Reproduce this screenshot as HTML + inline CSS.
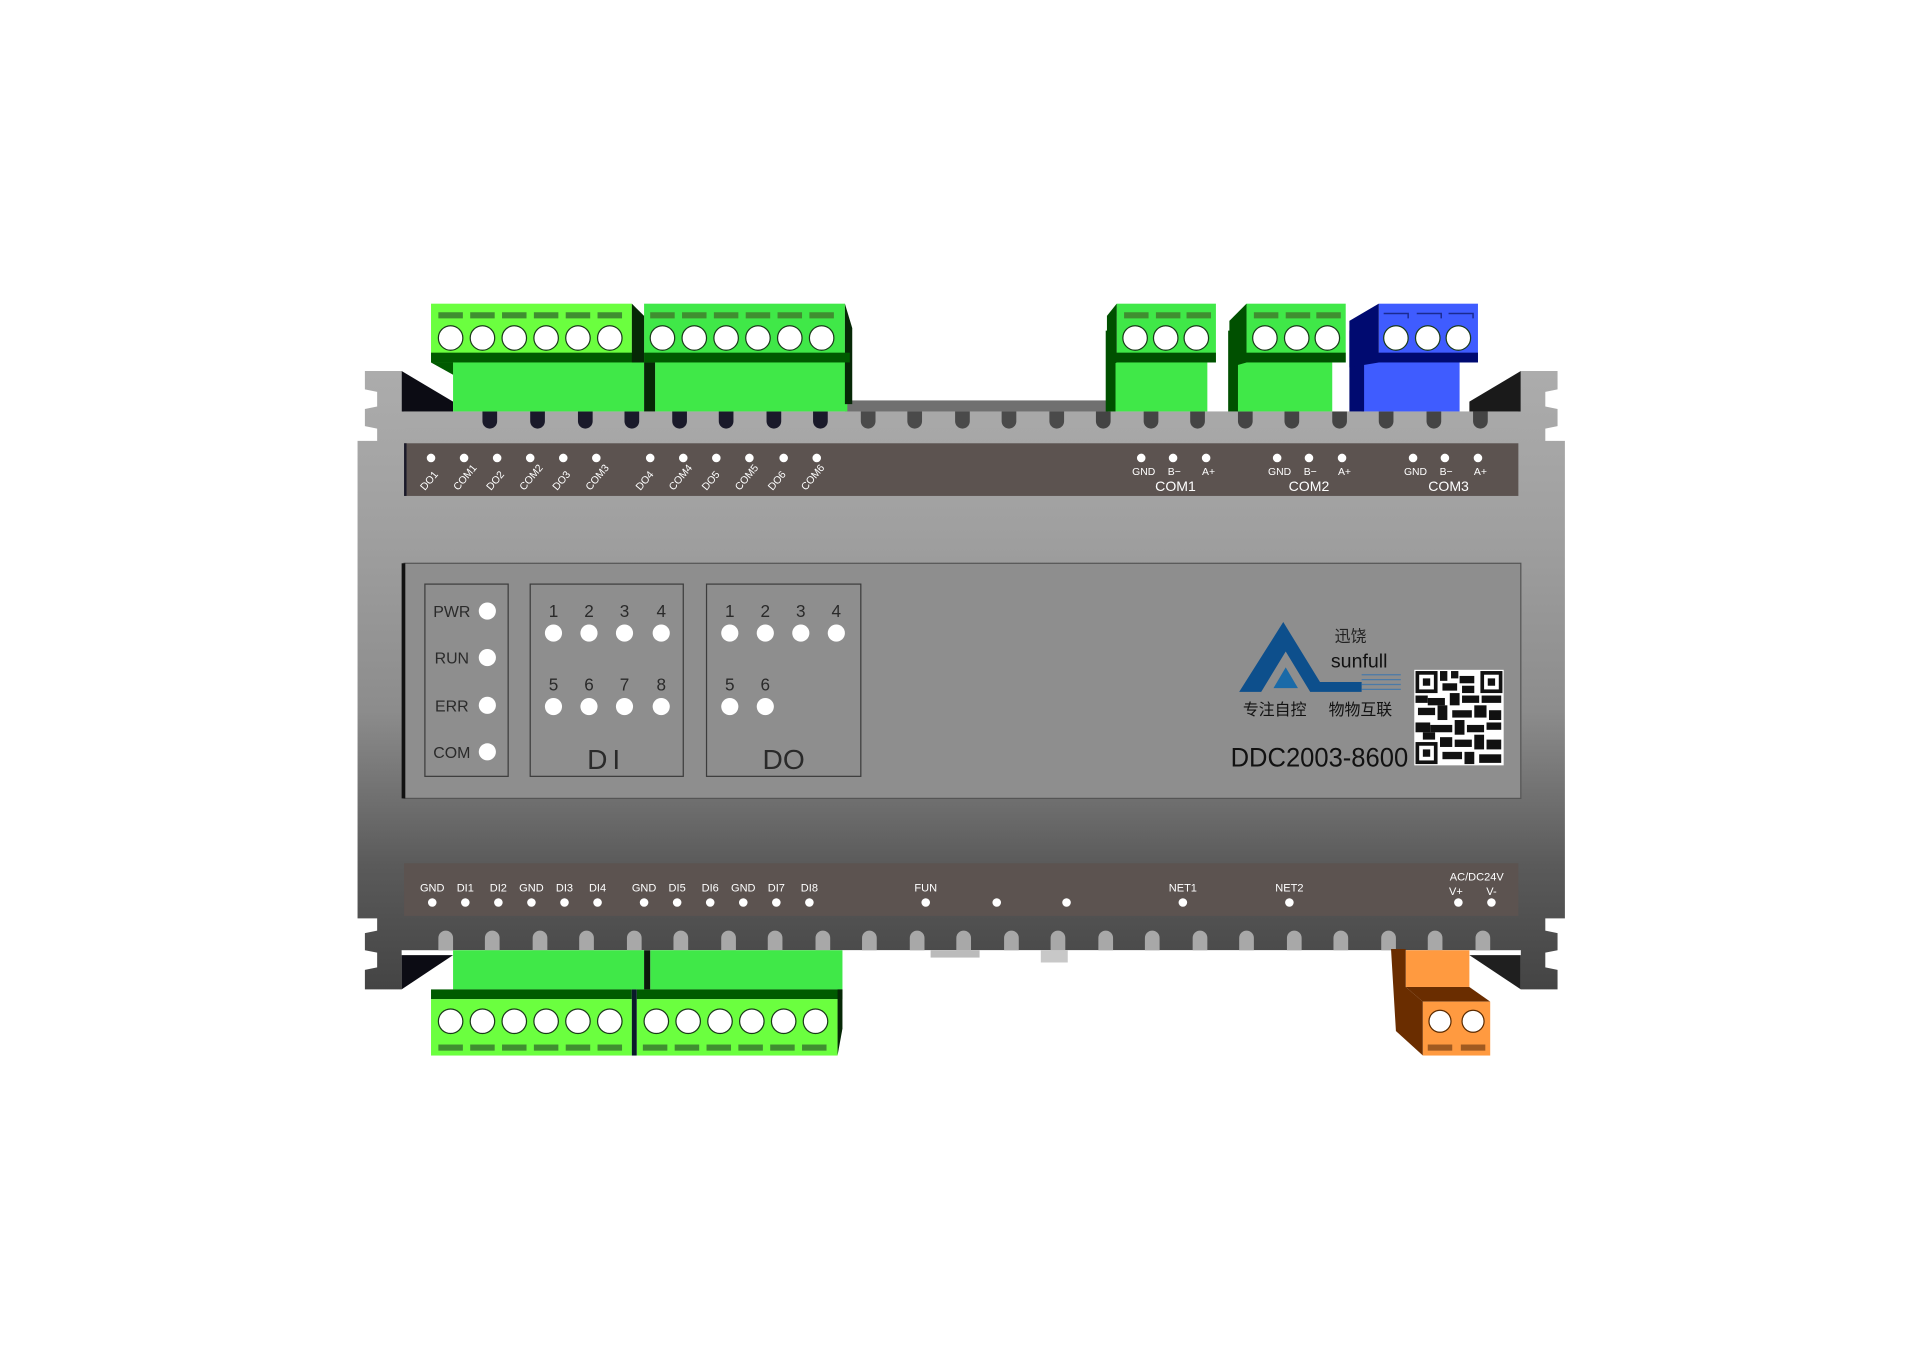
<!DOCTYPE html>
<html><head><meta charset="utf-8"><style>
html,body{margin:0;padding:0;background:#fff;width:1920px;height:1358px;overflow:hidden}
svg{display:block}
text{font-family:"Liberation Sans","Noto Sans CJK SC",sans-serif}
</style></head><body>
<svg width="1920" height="1358" viewBox="0 0 1568 1109" preserveAspectRatio="none" xmlns="http://www.w3.org/2000/svg">
<defs>
<linearGradient id="bg" x1="0" y1="0" x2="0" y2="1">
<stop offset="0" stop-color="#acacac"/><stop offset="0.25" stop-color="#a0a0a0"/><stop offset="0.55" stop-color="#8c8c8c"/><stop offset="0.8" stop-color="#5a5a5a"/><stop offset="1" stop-color="#444"/>
</linearGradient>
</defs>
<rect width="1568" height="1109" fill="#fff"/>
<rect x="690" y="327" width="215" height="10" fill="#707070"/>
<polygon points="328,303 370,328 370,338 328,338" fill="#0c0c14"/>
<polygon points="1242,303 1200,328 1200,338 1242,338" fill="#1a1a1a"/>
<polygon points="328,808 370,780 370,776 328,776" fill="#0c0c14"/>
<polygon points="1242,808 1200,780 1200,776 1242,776" fill="#1f1f1f"/>
<path d="M298,303 H328 V336 H1242 V303 H1272 V318 L1262,320 V332 L1272,334 V348 L1262,350 V360 H1278 V750 H1262 V760 L1272,762 V776 L1262,778 V790 L1272,792 V808 H1242 V776 H328 V808 H298 V792 L308,790 V778 L298,776 V762 L308,760 V750 H292 V360 H308 V350 L298,348 V334 L308,332 V320 L298,318 Z" fill="url(#bg)"/>
<rect x="330" y="336" width="910" height="14" fill="#a8a8a8"/>
<g>
<path d="M394,336 h12 v8 a6,6 0 0 1 -12,0 z" fill="#1a1a2a"/>
<path d="M433,336 h12 v8 a6,6 0 0 1 -12,0 z" fill="#1a1a2a"/>
<path d="M472,336 h12 v8 a6,6 0 0 1 -12,0 z" fill="#1a1a2a"/>
<path d="M510,336 h12 v8 a6,6 0 0 1 -12,0 z" fill="#1a1a2a"/>
<path d="M549,336 h12 v8 a6,6 0 0 1 -12,0 z" fill="#1a1a2a"/>
<path d="M587,336 h12 v8 a6,6 0 0 1 -12,0 z" fill="#1a1a2a"/>
<path d="M626,336 h12 v8 a6,6 0 0 1 -12,0 z" fill="#1a1a2a"/>
<path d="M664,336 h12 v8 a6,6 0 0 1 -12,0 z" fill="#1a1a2a"/>
<path d="M703,336 h12 v8 a6,6 0 0 1 -12,0 z" fill="#4a4a4a"/>
<path d="M741,336 h12 v8 a6,6 0 0 1 -12,0 z" fill="#4a4a4a"/>
<path d="M780,336 h12 v8 a6,6 0 0 1 -12,0 z" fill="#4a4a4a"/>
<path d="M818,336 h12 v8 a6,6 0 0 1 -12,0 z" fill="#4a4a4a"/>
<path d="M857,336 h12 v8 a6,6 0 0 1 -12,0 z" fill="#4a4a4a"/>
<path d="M895,336 h12 v8 a6,6 0 0 1 -12,0 z" fill="#444"/>
<path d="M934,336 h12 v8 a6,6 0 0 1 -12,0 z" fill="#444"/>
<path d="M972,336 h12 v8 a6,6 0 0 1 -12,0 z" fill="#444"/>
<path d="M1011,336 h12 v8 a6,6 0 0 1 -12,0 z" fill="#444"/>
<path d="M1049,336 h12 v8 a6,6 0 0 1 -12,0 z" fill="#444"/>
<path d="M1088,336 h12 v8 a6,6 0 0 1 -12,0 z" fill="#444"/>
<path d="M1126,336 h12 v8 a6,6 0 0 1 -12,0 z" fill="#444"/>
<path d="M1165,336 h12 v8 a6,6 0 0 1 -12,0 z" fill="#444"/>
<path d="M1203,336 h12 v8 a6,6 0 0 1 -12,0 z" fill="#444"/>
</g>
<rect x="370" y="296" width="156" height="40" fill="#40e848"/>
<rect x="535" y="296" width="157" height="40" fill="#40e848"/>
<rect x="526" y="296" width="9" height="40" fill="#062806"/>
<rect x="907" y="296" width="79" height="40" fill="#40e848"/>
<rect x="903" y="270" width="8" height="66" fill="#005000"/>
<rect x="1010" y="296" width="78" height="40" fill="#40e848"/>
<rect x="1003" y="270" width="8" height="66" fill="#005000"/>
<rect x="1112" y="296" width="80" height="40" fill="#3f5cff"/>
<rect x="1102" y="270" width="12" height="66" fill="#000a70"/>
<rect x="352" y="248" width="164" height="48" fill="#6bff3f"/>
<rect x="352" y="288" width="170" height="8" fill="#005a00"/>
<polygon points="352,296 370,296 370,306" fill="#005a00"/>
<rect x="526" y="248" width="164" height="48" fill="#40e848"/>
<polygon points="690,248 696,268 696,330 690,330" fill="#062806"/>
<rect x="526" y="288" width="168" height="8" fill="#005a00"/>
<polygon points="516,248 526,258 526,296 516,296" fill="#062806"/>
<rect x="912" y="248" width="81" height="48" fill="#40e848"/>
<polygon points="912,248 904,258 904,300 912,296" fill="#005000"/>
<rect x="908" y="288" width="85" height="8" fill="#005000"/>
<rect x="1018" y="248" width="81" height="48" fill="#40e848"/>
<polygon points="1018,248 1004,262 1004,300 1018,296" fill="#005000"/>
<rect x="1006" y="288" width="93" height="8" fill="#005000"/>
<rect x="1126" y="248" width="81" height="48" fill="#3f5cff"/>
<polygon points="1126,248 1102,262 1102,300 1126,296" fill="#000a70"/>
<rect x="1104" y="288" width="103" height="8" fill="#000a70"/>
<g fill="#3f8f30">
<rect x="358" y="255" width="20" height="5"/><rect x="384" y="255" width="20" height="5"/><rect x="410" y="255" width="20" height="5"/><rect x="436" y="255" width="20" height="5"/><rect x="462" y="255" width="20" height="5"/><rect x="488" y="255" width="20" height="5"/>
<rect x="531" y="255" width="20" height="5"/><rect x="557" y="255" width="20" height="5"/><rect x="583" y="255" width="20" height="5"/><rect x="609" y="255" width="20" height="5"/><rect x="635" y="255" width="20" height="5"/><rect x="661" y="255" width="20" height="5"/>
<rect x="918" y="255" width="20" height="5"/><rect x="944" y="255" width="20" height="5"/><rect x="969" y="255" width="20" height="5"/>
<rect x="1024" y="255" width="20" height="5"/><rect x="1050" y="255" width="20" height="5"/><rect x="1075" y="255" width="20" height="5"/>
</g>
<g fill="none" stroke="#1a2a90" stroke-width="1.2">
<path d="M1130,256 h20 v4 M1157,256 h20 v4 M1183,256 h20 v4"/>
</g>
<g fill="#fff" stroke="#1a3a1a" stroke-width="1">
<circle cx="368" cy="276" r="10"/><circle cx="394" cy="276" r="10"/><circle cx="420" cy="276" r="10"/><circle cx="446" cy="276" r="10"/><circle cx="472" cy="276" r="10"/><circle cx="498" cy="276" r="10"/>
<circle cx="541" cy="276" r="10"/><circle cx="567" cy="276" r="10"/><circle cx="593" cy="276" r="10"/><circle cx="619" cy="276" r="10"/><circle cx="645" cy="276" r="10"/><circle cx="671" cy="276" r="10"/>
<circle cx="927" cy="276" r="10"/><circle cx="952" cy="276" r="10"/><circle cx="977" cy="276" r="10"/>
<circle cx="1033" cy="276" r="10"/><circle cx="1059" cy="276" r="10"/><circle cx="1084" cy="276" r="10"/>
<circle cx="1140" cy="276" r="10"/><circle cx="1166" cy="276" r="10"/><circle cx="1191" cy="276" r="10"/>
</g>
<rect x="330" y="362" width="910" height="43" fill="#5c5350"/>
<rect x="330" y="362" width="2" height="43" fill="#1a1a2a"/>
<g fill="#fff">
<circle cx="352" cy="374" r="3.5"/><circle cx="379" cy="374" r="3.5"/><circle cx="406" cy="374" r="3.5"/><circle cx="433" cy="374" r="3.5"/><circle cx="460" cy="374" r="3.5"/><circle cx="487" cy="374" r="3.5"/>
<circle cx="531" cy="374" r="3.5"/><circle cx="558" cy="374" r="3.5"/><circle cx="585" cy="374" r="3.5"/><circle cx="612" cy="374" r="3.5"/><circle cx="640" cy="374" r="3.5"/><circle cx="667" cy="374" r="3.5"/>
<circle cx="932" cy="374" r="3.5"/><circle cx="958" cy="374" r="3.5"/><circle cx="985" cy="374" r="3.5"/>
<circle cx="1043" cy="374" r="3.5"/><circle cx="1069" cy="374" r="3.5"/><circle cx="1096" cy="374" r="3.5"/>
<circle cx="1154" cy="374" r="3.5"/><circle cx="1180" cy="374" r="3.5"/><circle cx="1207" cy="374" r="3.5"/>
</g>
<g fill="#fff" font-size="8.5">
<text transform="translate(347,401) rotate(-50)">DO1</text>
<text transform="translate(374,401) rotate(-50)">COM1</text>
<text transform="translate(401,401) rotate(-50)">DO2</text>
<text transform="translate(428,401) rotate(-50)">COM2</text>
<text transform="translate(455,401) rotate(-50)">DO3</text>
<text transform="translate(482,401) rotate(-50)">COM3</text>
<text transform="translate(523,401) rotate(-50)">DO4</text>
<text transform="translate(550,401) rotate(-50)">COM4</text>
<text transform="translate(577,401) rotate(-50)">DO5</text>
<text transform="translate(604,401) rotate(-50)">COM5</text>
<text transform="translate(631,401) rotate(-50)">DO6</text>
<text transform="translate(658,401) rotate(-50)">COM6</text>
</g>
<g fill="#fff" font-size="8.5" text-anchor="middle">
<text x="934" y="388">GND</text><text x="959" y="388">B−</text><text x="987" y="388">A+</text>
<text x="1045" y="388">GND</text><text x="1070" y="388">B−</text><text x="1098" y="388">A+</text>
<text x="1156" y="388">GND</text><text x="1181" y="388">B−</text><text x="1209" y="388">A+</text>
<text x="960" y="401" font-size="11.5">COM1</text><text x="1069" y="401" font-size="11.5">COM2</text><text x="1183" y="401" font-size="11.5">COM3</text>
</g>
<rect x="330" y="460" width="912" height="192" fill="#8e8e8e" stroke="#555" stroke-width="1"/>
<rect x="328" y="460" width="3" height="192" fill="#111"/>
<g fill="none" stroke="#3c3c3c" stroke-width="1">
<rect x="347" y="477" width="68" height="157"/>
<rect x="433" y="477" width="125" height="157"/>
<rect x="577" y="477" width="126" height="157"/>
</g>
<g fill="#fff">
<circle cx="398" cy="499" r="7"/><circle cx="398" cy="537" r="7"/><circle cx="398" cy="576" r="7"/><circle cx="398" cy="614" r="7"/>
<circle cx="452" cy="517" r="7"/><circle cx="481" cy="517" r="7"/><circle cx="510" cy="517" r="7"/><circle cx="540" cy="517" r="7"/>
<circle cx="452" cy="577" r="7"/><circle cx="481" cy="577" r="7"/><circle cx="510" cy="577" r="7"/><circle cx="540" cy="577" r="7"/>
<circle cx="596" cy="517" r="7"/><circle cx="625" cy="517" r="7"/><circle cx="654" cy="517" r="7"/><circle cx="683" cy="517" r="7"/>
<circle cx="596" cy="577" r="7"/><circle cx="625" cy="577" r="7"/>
</g>
<g fill="#2a2a2a" font-size="14" text-anchor="middle">
<text x="369" y="504" font-size="13">PWR</text><text x="369" y="542" font-size="13">RUN</text><text x="369" y="581" font-size="13">ERR</text><text x="369" y="619" font-size="13">COM</text>
<text x="452" y="504">1</text><text x="481" y="504">2</text><text x="510" y="504">3</text><text x="540" y="504">4</text>
<text x="452" y="564">5</text><text x="481" y="564">6</text><text x="510" y="564">7</text><text x="540" y="564">8</text>
<text x="596" y="504">1</text><text x="625" y="504">2</text><text x="654" y="504">3</text><text x="683" y="504">4</text>
<text x="596" y="564">5</text><text x="625" y="564">6</text>
<text x="495" y="628" font-size="23" letter-spacing="4">DI</text>
<text x="640" y="628" font-size="23">DO</text>
</g>
<polygon points="1048,508 1012,565 1030,565 1050,532 1070,565 1112,565 1112,557 1078,557" fill="#0d4f8c"/>
<polygon points="1050,545 1040,562 1060,562" fill="#1a6aa8"/>
<g stroke="#4a7aa8" stroke-width="1"><line x1="1112" y1="551" x2="1144" y2="551"/><line x1="1112" y1="555" x2="1144" y2="555"/><line x1="1112" y1="559" x2="1144" y2="559"/><line x1="1112" y1="563" x2="1144" y2="563"/></g>
<text x="1103" y="524" font-size="13" fill="#222" text-anchor="middle" font-family="Noto Serif CJK SC,serif">迅饶</text>
<text x="1110" y="545" font-size="16" fill="#111" text-anchor="middle">sunfull</text>
<text x="1041" y="584" font-size="13" fill="#111" text-anchor="middle">专注自控</text>
<text x="1111" y="584" font-size="13" fill="#111" text-anchor="middle">物物互联</text>
<text x="1005" y="626" font-size="22" fill="#111" textLength="145" lengthAdjust="spacingAndGlyphs">DDC2003-8600</text>
<rect x="1155" y="547" width="73" height="78" fill="#fff"/>
<g fill="#111">
<rect x="1156" y="548" width="18" height="18"/><rect x="1209" y="548" width="18" height="18"/><rect x="1156" y="606" width="18" height="18"/>
<rect x="1176" y="548" width="6" height="8"/><rect x="1185" y="548" width="6" height="6"/><rect x="1192" y="552" width="12" height="6"/><rect x="1178" y="558" width="12" height="6"/><rect x="1194" y="560" width="10" height="6"/>
<rect x="1156" y="568" width="10" height="6"/><rect x="1166" y="570" width="14" height="6"/><rect x="1184" y="566" width="8" height="10"/><rect x="1194" y="568" width="14" height="6"/><rect x="1210" y="568" width="16" height="6"/>
<rect x="1158" y="578" width="14" height="6"/><rect x="1174" y="576" width="8" height="12"/><rect x="1186" y="580" width="16" height="6"/><rect x="1204" y="576" width="10" height="10"/><rect x="1216" y="580" width="10" height="8"/>
<rect x="1156" y="590" width="12" height="8"/><rect x="1168" y="592" width="18" height="6"/><rect x="1188" y="588" width="8" height="12"/><rect x="1198" y="592" width="14" height="6"/><rect x="1214" y="590" width="12" height="6"/>
<rect x="1162" y="598" width="10" height="6"/><rect x="1176" y="602" width="10" height="8"/><rect x="1188" y="604" width="14" height="6"/><rect x="1204" y="600" width="8" height="12"/><rect x="1214" y="604" width="12" height="8"/>
<rect x="1178" y="614" width="16" height="6"/><rect x="1196" y="614" width="8" height="10"/><rect x="1208" y="616" width="18" height="7"/>
</g>
<g fill="#fff"><rect x="1159" y="551" width="12" height="12"/><rect x="1212" y="551" width="12" height="12"/><rect x="1159" y="609" width="12" height="12"/></g>
<g fill="#111"><rect x="1162" y="554" width="6" height="6"/><rect x="1215" y="554" width="6" height="6"/><rect x="1162" y="612" width="6" height="6"/></g>
<rect x="330" y="705" width="910" height="43" fill="#5c5350"/>
<g fill="#fff" font-size="9" text-anchor="middle">
<text x="353" y="728">GND</text><text x="380" y="728">DI1</text><text x="407" y="728">DI2</text><text x="434" y="728">GND</text><text x="461" y="728">DI3</text><text x="488" y="728">DI4</text>
<text x="526" y="728">GND</text><text x="553" y="728">DI5</text><text x="580" y="728">DI6</text><text x="607" y="728">GND</text><text x="634" y="728">DI7</text><text x="661" y="728">DI8</text>
<text x="756" y="728">FUN</text><text x="966" y="728">NET1</text><text x="1053" y="728">NET2</text>
<text x="1206" y="719">AC/DC24V</text><text x="1189" y="731">V+</text><text x="1218" y="731">V-</text>
</g>
<g fill="#fff">
<circle cx="353" cy="737" r="3.5"/><circle cx="380" cy="737" r="3.5"/><circle cx="407" cy="737" r="3.5"/><circle cx="434" cy="737" r="3.5"/><circle cx="461" cy="737" r="3.5"/><circle cx="488" cy="737" r="3.5"/>
<circle cx="526" cy="737" r="3.5"/><circle cx="553" cy="737" r="3.5"/><circle cx="580" cy="737" r="3.5"/><circle cx="607" cy="737" r="3.5"/><circle cx="634" cy="737" r="3.5"/><circle cx="661" cy="737" r="3.5"/>
<circle cx="756" cy="737" r="3.5"/><circle cx="814" cy="737" r="3.5"/><circle cx="871" cy="737" r="3.5"/><circle cx="966" cy="737" r="3.5"/><circle cx="1053" cy="737" r="3.5"/><circle cx="1191" cy="737" r="3.5"/><circle cx="1218" cy="737" r="3.5"/>
</g>
<rect x="328" y="776" width="914" height="4" fill="#fff"/>
<g fill="#a8a8a8">
<path d="M358,776 v-10 a6,6 0 0 1 12,0 v10 z"/><path d="M396,776 v-10 a6,6 0 0 1 12,0 v10 z"/><path d="M435,776 v-10 a6,6 0 0 1 12,0 v10 z"/><path d="M473,776 v-10 a6,6 0 0 1 12,0 v10 z"/><path d="M512,776 v-10 a6,6 0 0 1 12,0 v10 z"/><path d="M550,776 v-10 a6,6 0 0 1 12,0 v10 z"/><path d="M589,776 v-10 a6,6 0 0 1 12,0 v10 z"/><path d="M627,776 v-10 a6,6 0 0 1 12,0 v10 z"/><path d="M666,776 v-10 a6,6 0 0 1 12,0 v10 z"/><path d="M704,776 v-10 a6,6 0 0 1 12,0 v10 z"/><path d="M743,776 v-10 a6,6 0 0 1 12,0 v10 z"/><path d="M781,776 v-10 a6,6 0 0 1 12,0 v10 z"/><path d="M820,776 v-10 a6,6 0 0 1 12,0 v10 z"/><path d="M858,776 v-10 a6,6 0 0 1 12,0 v10 z"/><path d="M897,776 v-10 a6,6 0 0 1 12,0 v10 z"/><path d="M935,776 v-10 a6,6 0 0 1 12,0 v10 z"/><path d="M974,776 v-10 a6,6 0 0 1 12,0 v10 z"/><path d="M1012,776 v-10 a6,6 0 0 1 12,0 v10 z"/><path d="M1051,776 v-10 a6,6 0 0 1 12,0 v10 z"/><path d="M1089,776 v-10 a6,6 0 0 1 12,0 v10 z"/><path d="M1128,776 v-10 a6,6 0 0 1 12,0 v10 z"/><path d="M1166,776 v-10 a6,6 0 0 1 12,0 v10 z"/><path d="M1205,776 v-10 a6,6 0 0 1 12,0 v10 z"/>
</g>
<rect x="850" y="776" width="22" height="10" fill="#c8c8c8"/>
<rect x="760" y="776" width="40" height="6" fill="#bbb"/>
<rect x="370" y="776" width="156" height="32" fill="#40e848"/>
<rect x="531" y="776" width="157" height="32" fill="#40e848"/>
<rect x="526" y="776" width="5" height="32" fill="#0a1a0a"/>
<rect x="352" y="808" width="164" height="8" fill="#005a00"/>
<rect x="520" y="808" width="168" height="8" fill="#005a00"/>
<rect x="352" y="816" width="164" height="46" fill="#6bff3f"/>
<rect x="520" y="816" width="164" height="46" fill="#6bff3f"/>
<rect x="516" y="808" width="4" height="54" fill="#0a1a2a"/>
<polygon points="684,808 688,808 688,840 684,862" fill="#062806"/>
<g fill="#3f8f30">
<rect x="358" y="853" width="20" height="5"/><rect x="384" y="853" width="20" height="5"/><rect x="410" y="853" width="20" height="5"/><rect x="436" y="853" width="20" height="5"/><rect x="462" y="853" width="20" height="5"/><rect x="488" y="853" width="20" height="5"/>
<rect x="525" y="853" width="20" height="5"/><rect x="551" y="853" width="20" height="5"/><rect x="577" y="853" width="20" height="5"/><rect x="603" y="853" width="20" height="5"/><rect x="629" y="853" width="20" height="5"/><rect x="655" y="853" width="20" height="5"/>
</g>
<g fill="#fff" stroke="#1a3a1a" stroke-width="1">
<circle cx="368" cy="834" r="10"/><circle cx="394" cy="834" r="10"/><circle cx="420" cy="834" r="10"/><circle cx="446" cy="834" r="10"/><circle cx="472" cy="834" r="10"/><circle cx="498" cy="834" r="10"/>
<circle cx="536" cy="834" r="10"/><circle cx="562" cy="834" r="10"/><circle cx="588" cy="834" r="10"/><circle cx="614" cy="834" r="10"/><circle cx="640" cy="834" r="10"/><circle cx="666" cy="834" r="10"/>
</g>
<rect x="1148" y="776" width="52" height="30" fill="#ff9a40"/>
<polygon points="1136,775 1148,775 1148,806 1162,818 1162,862 1140,842" fill="#6a2d00"/>
<polygon points="1148,806 1200,806 1217,818 1162,818" fill="#6a2d00"/>
<rect x="1162" y="818" width="55" height="44" fill="#ff9a40"/>
<g fill="#a05a20"><rect x="1166" y="853" width="20" height="5"/><rect x="1193" y="853" width="20" height="5"/></g>
<g fill="#fff" stroke="#5a2a00" stroke-width="1"><circle cx="1176" cy="834" r="9"/><circle cx="1203" cy="834" r="9"/></g>
</svg>
</body></html>
